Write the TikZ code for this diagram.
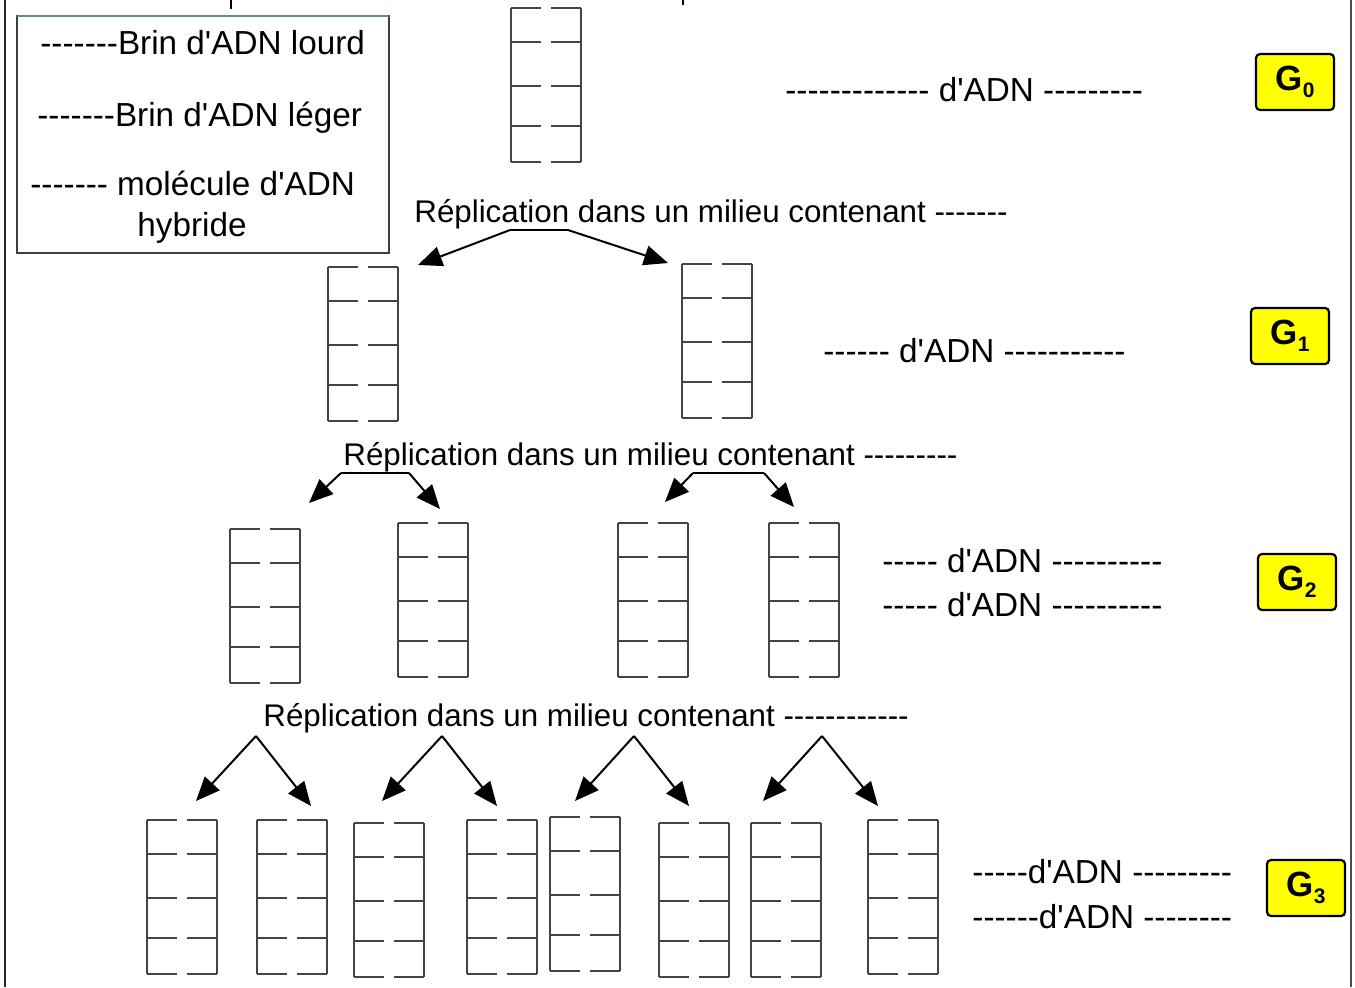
\documentclass[tikz,border=0pt]{standalone}
\usepackage{fontspec}
\newfontfamily\lab{Liberation Sans}
\usetikzlibrary{arrows.meta}
\definecolor{molgray}{HTML}{444444}
\definecolor{boxyellow}{HTML}{FFFF00}
\definecolor{legtop}{HTML}{5E8E7E}
\tikzset{
  txt/.style={inner sep=0pt, font=\lab\fontsize{16.65}{19}\selectfont},
  reptxt/.style={inner sep=0pt, font=\lab\fontsize{15.65}{19}\selectfont},
  molline/.style={draw=molgray, line width=0.6pt},
  arr/.style={line width=1pt, -{Triangle[length=12pt,width=10pt]}},
  gbox/.style={draw=black, line width=1.1pt, fill=boxyellow, rounded corners=2pt,
    minimum width=39pt, minimum height=28pt, inner sep=0pt,
    font=\lab\bfseries\fontsize{17.5}{19}\selectfont}
}
\newcommand\molecule[3]{%
  \node[inner sep=0pt, minimum width=35pt, minimum height=77pt, anchor=north west] (#1) at (#2,#3) {};
  \begin{scope}[shift={(#2,#3)}]
    \draw[molline] (0,0) -- (0,154) (70,0) -- (70,154);
    \foreach \l in {0,34,78,118,154}{
      \draw[molline] (0,\l) -- (30,\l) (40,\l) -- (70,\l);
    }
  \end{scope}}
\newcommand\gsub[1]{\raisebox{-0.35ex}{\fontsize{10.5}{10.5}\selectfont #1}}
\begin{document}
\begin{tikzpicture}[x=0.5pt, y=-0.5pt]
\useasboundingbox (0,0) rectangle (1355,987);
% frame lines
\draw[line width=1pt, black!85] (5,0) -- (5,987);
\draw[line width=1pt, black!70] (1351,0) -- (1351,987);
% cut-off descenders at top
\draw[line width=1.4pt] (231,0) -- (231,9);
\draw[line width=1.4pt] (683,0) -- (683,5);
% legend
\draw[line width=0.6pt, black!75] (17,16) rectangle (389,253);
\draw[line width=0.8pt, legtop] (17,16) -- (389,16);
\node[txt, anchor=west] (l1) at (40,43) {-------Brin d'ADN lourd};
\node[txt, anchor=west] (l2) at (37,118) {-------Brin d'ADN léger};
\node[txt, anchor=west] (l3) at (30,183) {------- molécule d'ADN};
\node[txt] (l4) at (192,228) {hybride};
% G0
\molecule{m0}{511}{8}
\node[txt, anchor=west] (d0) at (785,90) {------------- d'ADN ---------};
\node[gbox] (g0) at (1295,82) {G\gsub{0}};
% replication 1
\node[reptxt, anchor=west] (r1) at (414,214) {Réplication dans un milieu contenant -------};
\coordinate (a1l) at (510,230);
\coordinate (a1r) at (568,230);
\coordinate (t1l) at (418,265);
\coordinate (t1r) at (668,263);
\draw[line width=1pt] (a1l) -- (a1r);
\draw[arr] (a1l) -- (t1l);
\draw[arr] (a1r) -- (t1r);
% G1
\molecule{m11}{328}{267}
\molecule{m12}{682}{264}
\node[txt, anchor=west] (d1) at (823,351) {------ d'ADN -----------};
\node[gbox] (g1) at (1290,336) {G\gsub{1}};
% replication 2
\node[reptxt, anchor=west] (r2) at (343,457) {Réplication dans un milieu contenant ---------};
\coordinate (a2a) at (341,473);
\coordinate (a2b) at (409,473);
\coordinate (t2a) at (309,503);
\coordinate (t2b) at (440,509);
\draw[line width=1pt] (a2a) -- (a2b);
\draw[arr] (a2a) -- (t2a);
\draw[arr] (a2b) -- (t2b);
\coordinate (a2c) at (693,473);
\coordinate (a2d) at (764,473);
\coordinate (t2c) at (665,502);
\coordinate (t2d) at (794,507);
\draw[line width=1pt] (a2c) -- (a2d);
\draw[arr] (a2c) -- (t2c);
\draw[arr] (a2d) -- (t2d);
% G2
\molecule{m21}{230}{529}
\molecule{m22}{398}{523}
\molecule{m23}{618}{523}
\molecule{m24}{769}{523}
\node[txt, anchor=west] (d2a) at (882,561) {----- d'ADN ----------};
\node[txt, anchor=west] (d2b) at (882,605) {----- d'ADN ----------};
\node[gbox] (g2) at (1297,582) {G\gsub{2}};
% replication 3
\node[reptxt, anchor=west] (r3) at (263,718) {Réplication dans un milieu contenant ------------};
\foreach \ax/\lx/\rx [count=\i] in {256/196/311, 442/382/497, 634/575/689, 822/763/878}{
  \coordinate (a3\i) at (\ax,736);
  \coordinate (t3l\i) at (\lx,801);
  \coordinate (t3r\i) at (\rx,806);
  \draw[arr] (a3\i) -- (t3l\i);
  \draw[arr] (a3\i) -- (t3r\i);
}
% G3
\molecule{m31}{147}{820}
\molecule{m32}{257}{820}
\molecule{m33}{354}{823}
\molecule{m34}{467}{820}
\molecule{m35}{550}{817}
\molecule{m36}{659}{823}
\molecule{m37}{751}{823}
\molecule{m38}{868}{820}
\node[txt, anchor=west] (d3a) at (972,872) {-----d'ADN ---------};
\node[txt, anchor=west] (d3b) at (972,917) {------d'ADN --------};
\node[gbox] (g3) at (1306,888) {G\gsub{3}};
\end{tikzpicture}
\end{document}
